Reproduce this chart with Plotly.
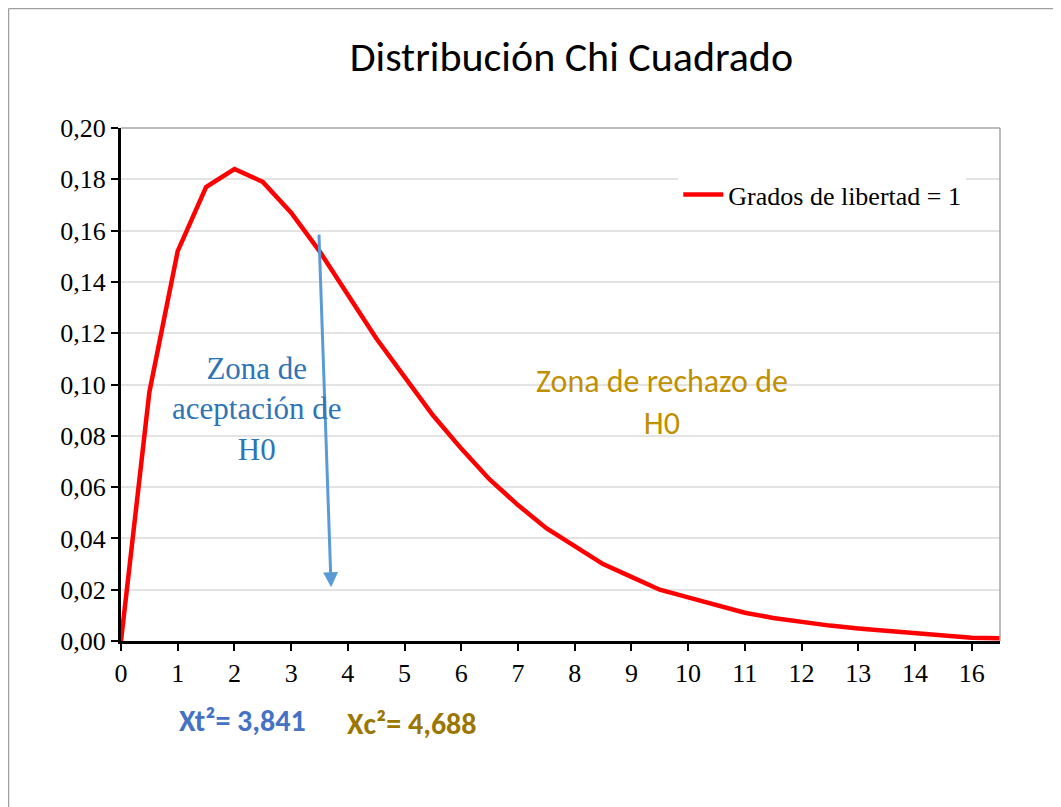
import plotly.graph_objects as go

categories = ["0", "0.5", "1", "1.5", "2", "2.5", "3", "3.5", "4", "4.5", "5", "5.5",
              "6", "6.5", "7", "7.5", "8", "8.5", "9", "9.5", "10", "10.5", "11", "11.5",
              "12", "12.5", "13", "13.5", "14", "14.5", "16", "16.5"]
density = [0.0, 0.097, 0.152, 0.177, 0.184, 0.179, 0.167, 0.152, 0.135, 0.118, 0.103, 0.088,
           0.075, 0.063, 0.053, 0.044, 0.037, 0.030, 0.025, 0.020, 0.017, 0.014, 0.011, 0.009,
           0.0074, 0.006, 0.0049, 0.004, 0.0032, 0.0026, 0.0013, 0.0011]
tick_cats = ["0", "1", "2", "3", "4", "5", "6", "7", "8", "9", "10", "11", "12", "13", "14", "16"]
series_name = "Grados de libertad = 1"

SERIF = "Liberation Serif, Times New Roman, serif"
SANS = "Carlito, Liberation Sans Narrow, Open Sans, sans-serif"

fig = go.Figure()
fig.add_trace(go.Scatter(x=categories, y=density, mode="lines", name=series_name,
                         line=dict(color="#FF0000", width=4.5)))

fig.update_layout(
    width=1061, height=807,
    margin=dict(l=113, r=69, t=120, b=174),
    paper_bgcolor="white", plot_bgcolor="white",
    separators=",.",
    title=dict(text="Distribución Chi Cuadrado", x=0.531, xanchor="center", y=0.94, yanchor="middle",
               font=dict(family=SANS, size=42, color="black")),
    showlegend=True,
    legend=dict(x=0.634, y=0.916, xanchor="left", yanchor="top", bgcolor="white",
                font=dict(family=SERIF, size=26, color="black"), itemwidth=40),
    xaxis=dict(type="category", categoryorder="array", categoryarray=categories,
               range=[0, 31], tickmode="array", tickvals=tick_cats, ticktext=tick_cats,
               showgrid=False, showline=True, linecolor="black", linewidth=3,
               ticks="outside", ticklen=7, tickwidth=2, tickcolor="black",
               tickfont=dict(family=SERIF, size=26, color="black"), zeroline=False),
    yaxis=dict(range=[0, 0.2], dtick=0.02, tickformat=".2f",
               showgrid=True, gridcolor="#E3E3E3", gridwidth=1.5,
               showline=True, linecolor="black", linewidth=3,
               ticks="outside", ticklen=7, tickwidth=2, tickcolor="black",
               tickfont=dict(family=SERIF, size=26, color="black"), zeroline=False),
)

# plot area top/right gray borders
fig.add_shape(type="line", xref="paper", yref="paper", x0=0, x1=1, y0=1, y1=1,
              line=dict(color="#A6A6A6", width=1.5))
fig.add_shape(type="line", xref="paper", yref="paper", x0=1, x1=1, y0=0, y1=1,
              line=dict(color="#A6A6A6", width=1.5))
# chart area border (left and top)
fig.add_shape(type="line", xref="paper", yref="paper", x0=-0.1280, x1=1.1, y0=1.2327, y1=1.2327,
              line=dict(color="#A0A0A0", width=1.5))
fig.add_shape(type="line", xref="paper", yref="paper", x0=-0.1280, x1=-0.1280, y0=1.2327, y1=-0.35,
              line=dict(color="#A0A0A0", width=1.5))

# arrow
fig.add_annotation(x=7.41, y=0.021, ax=6.98, ay=0.159, xref="x", yref="y", axref="x", ayref="y",
                   showarrow=True, arrowhead=2, arrowsize=1, arrowwidth=3, arrowcolor="#5B9BD5", text="")

fig.add_annotation(x=4.8, y=0.0905, xref="x", yref="y", showarrow=False,
                   text="Zona de<br>aceptación de<br>H0",
                   font=dict(family=SERIF, size=31, color="#2E75B6"), align="center")
fig.add_annotation(x=19.08, y=0.0928, xref="x", yref="y", showarrow=False,
                   text="Zona de rechazo de<br>H0",
                   font=dict(family=SANS, size=32, color="#BF9000"), align="center")

fig.add_annotation(x=4.3, y=-0.154, xref="x", yref="paper", yanchor="middle", showarrow=False,
                   text="<b>Xt²= 3,841</b>", font=dict(family=SANS, size=30, color="#4472C4"))
fig.add_annotation(x=10.26, y=-0.16, xref="x", yref="paper", yanchor="middle", showarrow=False,
                   text="<b>Xc²= 4,688</b>", font=dict(family=SANS, size=30, color="#9C7700"))

fig.write_html("out.html")
